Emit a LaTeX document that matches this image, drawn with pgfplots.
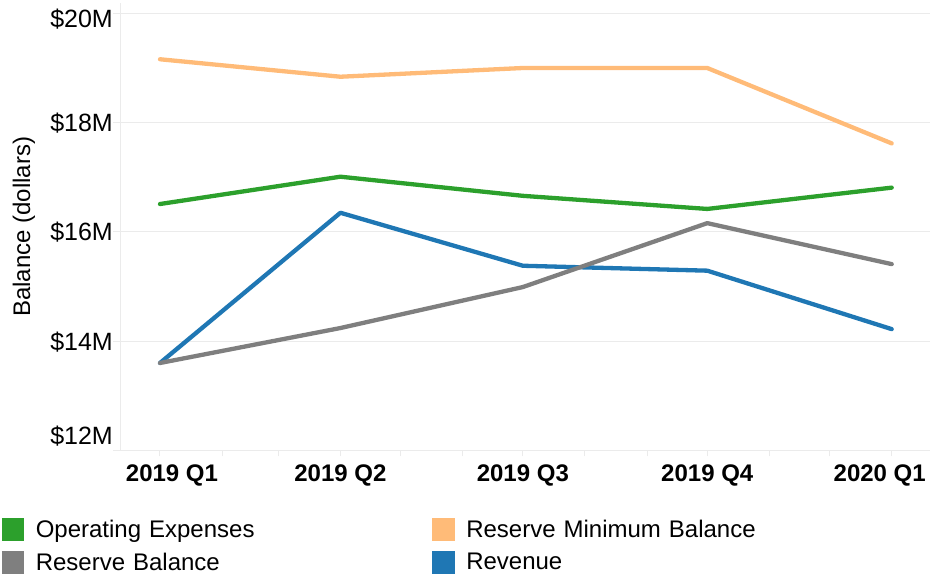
\documentclass[border=0pt]{standalone}
\usepackage{fontspec}
\setmainfont{Liberation Sans}
\usepackage{pgfplots}
\pgfplotsset{compat=1.18}
\definecolor{cGreen}{HTML}{2CA02C}
\definecolor{cOrange}{HTML}{FFBB78}
\definecolor{cGray}{HTML}{7F7F7F}
\definecolor{cBlue}{HTML}{1F77B4}
\definecolor{cGrid}{HTML}{EBEBEB}
\newcommand{\bigfont}{\fontsize{24pt}{28pt}\selectfont}
\begin{document}
\begin{tikzpicture}
\begin{axis}[
  scale only axis, width=809pt, height=447.4pt,
  xmin=-19.45, xmax=384.1, ymin=12, ymax=20.19,
  axis lines*=left,
  axis line style={draw=cGrid, line width=1pt},
  tick align=outside,
  major tick length=8pt,
  ytick={12,14,16,18,20},
  yticklabels={\raisebox{14.4pt}{\$12M},\$14M,\$16M,\$18M,\raisebox{-5.5pt}{\$20M}},
  ymajorgrids, grid style={draw=cGrid, line width=1pt},
  ytick style={draw=cGrid, line width=1pt},
  xtick={0,90,181,273,365},
  xticklabels={2019 Q1\hspace*{-24pt},2019 Q2,2019 Q3,2019 Q4,\hspace*{-24pt}2020 Q1},
  minor xtick={31,59,120,151,212,243,304,334},
  xtick style={draw=cGrid, line width=1pt, /pgfplots/major tick length=6pt, /pgfplots/minor tick length=6pt},
  minor x tick style={draw=cGrid, line width=1pt},
  yticklabel style={font=\fontsize{25pt}{29pt}\selectfont, anchor=base east, inner sep=0pt, yshift=-9pt},
  xticklabel style={font=\bigfont\bfseries, anchor=base, inner sep=0pt, yshift=-23pt},
  every axis y label/.style={at={(axis description cs:-0.1199,0.5)}, rotate=90, anchor=center, font=\bigfont},
  ylabel={Balance (dollars)},
  legend columns=2,
  legend style={at={(axis description cs:-0.1616,-0.1504)}, anchor=north west, draw=none, fill=none,
    inner sep=0pt, outer sep=0pt, column sep=0pt, row sep=10pt,
    nodes={inner sep=0pt, text width=385pt, align=left, font=\bigfont}},
  legend image code/.code={\draw[#1, line width=23pt, line cap=butt] (0pt,0pt) -- (22.5pt,0pt); \path (28.5pt,0pt);},
  clip=false,
]
\addlegendimage{cGreen}
\addlegendentry{Operating Expenses}
\addlegendimage{cOrange}
\addlegendentry{Reserve Minimum Balance}
\addlegendimage{cGray}
\addlegendentry{Reserve Balance}
\addlegendimage{cBlue}
\addlegendentry{Revenue}

\addplot[cOrange, line width=4.3pt, line cap=round, line join=round, forget plot] coordinates {(0,19.16) (90,18.84) (181,19.00) (273,19.00) (365,17.62)};
\addplot[cGreen, line width=4.3pt, line cap=round, line join=round, forget plot] coordinates {(0,16.51) (90,17.01) (181,16.66) (273,16.42) (365,16.81)};
\addplot[cBlue, line width=4.3pt, line cap=round, line join=round, forget plot] coordinates {(0,13.60) (90,16.35) (181,15.38) (273,15.29) (365,14.22)};
\addplot[cGray, line width=4.3pt, line cap=round, line join=round, forget plot] coordinates {(0,13.60) (90,14.24) (181,14.99) (273,16.16) (365,15.41)};
\end{axis}
\pgfresetboundingbox
\useasboundingbox (-121pt,-124.6pt) rectangle (809pt,450.4pt);
\end{tikzpicture}
\end{document}
